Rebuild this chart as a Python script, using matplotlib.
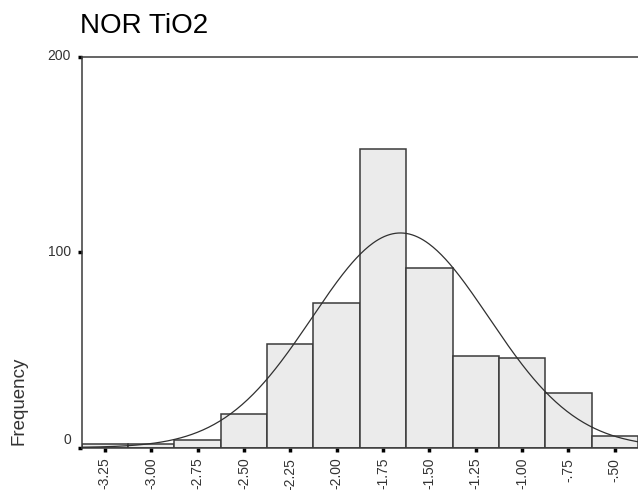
import numpy as np
import matplotlib
matplotlib.use("Agg")
import matplotlib.pyplot as plt
import matplotlib.transforms as mtransforms

plt.rcParams['font.family'] = ['Liberation Sans', 'DejaVu Sans']

# histogram bins (centres) and frequencies
bin_centers = [-3.25, -3.00, -2.75, -2.50, -2.25, -2.00, -1.75, -1.50, -1.25, -1.00, -0.75, -0.50]
counts = [2, 2, 4, 17, 53, 74, 153, 92, 47, 46, 28, 6]
tick_labels = ['-3.25', '-3.00', '-2.75', '-2.50', '-2.25', '-2.00', '-1.75',
               '-1.50', '-1.25', '-1.00', '-.75', '-.50']
bin_width = 0.25

# fitted normal curve
mean = -1.656
std_dev = 0.476
n_total = sum(counts)

fig = plt.figure(figsize=(6.38, 4.90), dpi=100)
ax = fig.add_axes([0.128, 0.0867, 0.872, 0.7976])

ax.bar(bin_centers, counts, width=bin_width, color='#ebebeb',
       edgecolor='#3a3a3a', linewidth=1.1, zorder=2)

xs = np.linspace(-3.375, -0.375, 400)
ys = n_total * bin_width / (std_dev * np.sqrt(2 * np.pi)) * np.exp(-(xs - mean) ** 2 / (2 * std_dev ** 2))
ax.plot(xs, ys, color='#303030', linewidth=0.9, zorder=3)

ax.set_xlim(-3.375, -0.375)
ax.set_ylim(0, 200)
ax.set_xticks(bin_centers)
ax.set_xticklabels(tick_labels, rotation=90, fontsize=10, color='#333333')
ax.set_yticks([0, 100, 200])
ax.set_yticklabels(['0', '100', '200'], fontsize=10, color='#333333')

ax.tick_params(axis='both', direction='out', length=3, width=2.5, color='black')
ax.tick_params(axis='x', pad=4.3)
ax.tick_params(axis='y', pad=4.8)

for side in ['left', 'top', 'bottom']:
    ax.spines[side].set_color('#3a3a3a')
    ax.spines[side].set_linewidth(1.1)
ax.spines['right'].set_visible(False)

# nudge y labels up a little, the zero label more
for lab, val in zip(ax.get_yticklabels(), [0, 100, 200]):
    dy = 9 if val == 0 else 2
    off = mtransforms.ScaledTranslation(0, dy / 100, fig.dpi_scale_trans)
    lab.set_transform(lab.get_transform() + off)

fig.text(80 / 638, 1 - 33.3 / 490, 'NOR TiO2', fontsize=20, color='black',
         ha='left', va='baseline')
fig.text(19 / 638, 1 - 401 / 490, 'Frequency', fontsize=13.5, color='#333333',
         rotation=90, ha='center', va='center')

fig.savefig('out.png', dpi=100)
